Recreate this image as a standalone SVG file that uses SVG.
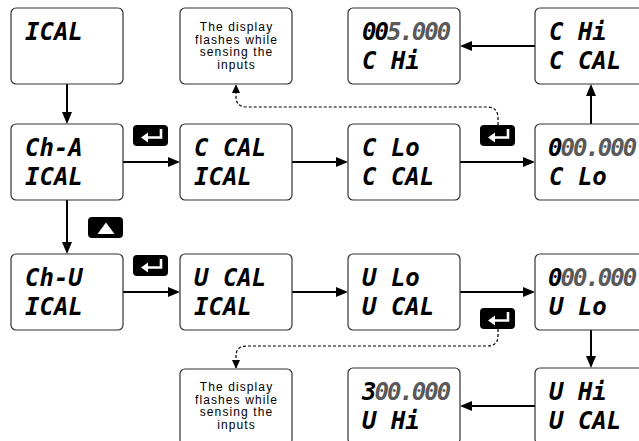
<svg xmlns="http://www.w3.org/2000/svg" width="639" height="441" viewBox="0 0 639 441">
<style>
.box{fill:#fff;stroke:#333;stroke-width:1.2}
.lcd{font-family:"DejaVu Sans Mono","Liberation Mono",monospace;font-weight:bold;font-style:italic;font-size:24px;fill:#000}
.num{letter-spacing:-2px}
.dim{fill:#595959}
.note{font-family:"Liberation Sans",Arial,sans-serif;font-size:12px;letter-spacing:1.1px;text-anchor:middle;fill:#000}
.conn{stroke:#000;stroke-width:2;fill:none}
.dash{stroke:#000;stroke-width:1.2;stroke-dasharray:3 2;fill:none}
.sym{stroke:#fff;stroke-width:2.6;fill:none}
</style>
<defs>
<marker id="ah" markerWidth="12" markerHeight="10" refX="10" refY="5" orient="auto" markerUnits="userSpaceOnUse"><path d="M0,0 L12,5 L0,10 z" fill="#000"/></marker>
<marker id="ahs" markerWidth="8" markerHeight="8" refX="8" refY="4" orient="auto" markerUnits="userSpaceOnUse"><path d="M0,0 L9,4 L0,8 z" fill="#000"/></marker>
<g id="enterBtn"><rect width="35" height="21" rx="4" fill="#000"/><path class="sym" d="M28,4 V12.5 H14"/><polygon points="8,12.5 15,7.5 15,17.5" fill="#fff"/></g>
</defs>

<g id="connectors">
<path class="conn" d="M67,84 V122" marker-end="url(#ah)"/>
<path class="conn" d="M67,200 V252" marker-end="url(#ah)"/>
<path class="conn" d="M123,162 H178" marker-end="url(#ah)"/>
<path class="conn" d="M292,162 H346" marker-end="url(#ah)"/>
<path class="conn" d="M460,162 H533" marker-end="url(#ah)"/>
<path class="conn" d="M591,124 V86" marker-end="url(#ah)"/>
<path class="conn" d="M535,46 H462" marker-end="url(#ah)"/>
<path class="conn" d="M123,292 H178" marker-end="url(#ah)"/>
<path class="conn" d="M292,292 H346" marker-end="url(#ah)"/>
<path class="conn" d="M460,292 H533" marker-end="url(#ah)"/>
<path class="conn" d="M591,330 V366" marker-end="url(#ah)"/>
<path class="conn" d="M535,406 H462" marker-end="url(#ah)"/>
<path class="dash" d="M498,125 V118 Q498,107 487,107 H247 Q236,107 236,97 V85" marker-end="url(#ahs)"/>
<path class="dash" d="M498,329 V336 Q498,346 487,346 H247 Q236,346 236,356 V368" marker-end="url(#ahs)"/>
</g>

<g id="buttons">
<use href="#enterBtn" x="133" y="125"/>
<use href="#enterBtn" x="133" y="255"/>
<use href="#enterBtn" x="480" y="125"/>
<use href="#enterBtn" x="480" y="308"/>
<g id="upBtn"><rect x="88" y="217" width="35" height="21" rx="4" fill="#000"/><polygon points="106,222.5 97.5,234 114.5,234" fill="#fff"/></g>
</g>

<g id="n-ical"><rect class="box" x="11" y="8" width="112" height="76" rx="5"/><text class="lcd" x="25" y="40">ICAL</text></g>
<g id="n-flash1"><rect class="box" x="180" y="8" width="112" height="76" rx="5"/>
<text class="note" x="236.5" y="31">The display</text><text class="note" x="236.5" y="43.5">flashes while</text><text class="note" x="236.5" y="56">sensing the</text><text class="note" x="236.5" y="68.5">inputs</text></g>
<g id="n-c005"><rect class="box" x="348" y="8" width="112" height="76" rx="5"/><text class="lcd num" x="362" y="40">00<tspan class="dim">5.000</tspan></text><text class="lcd" x="362" y="69">C Hi</text></g>
<g id="n-chi"><rect class="box" x="535" y="8" width="112" height="76" rx="5"/><text class="lcd" x="549" y="40">C Hi</text><text class="lcd" x="549" y="69">C CAL</text></g>

<g id="n-cha"><rect class="box" x="11" y="124" width="112" height="76" rx="5"/><text class="lcd" x="25" y="156">Ch-A</text><text class="lcd" x="25" y="185">ICAL</text></g>
<g id="n-ccal"><rect class="box" x="180" y="124" width="112" height="76" rx="5"/><text class="lcd" x="194" y="156">C CAL</text><text class="lcd" x="194" y="185">ICAL</text></g>
<g id="n-clo"><rect class="box" x="348" y="124" width="112" height="76" rx="5"/><text class="lcd" x="362" y="156">C Lo</text><text class="lcd" x="362" y="185">C CAL</text></g>
<g id="n-c000"><rect class="box" x="535" y="124" width="112" height="76" rx="5"/><text class="lcd num" x="548" y="156">0<tspan class="dim">00.000</tspan></text><text class="lcd" x="549" y="185">C Lo</text></g>

<g id="n-chu"><rect class="box" x="11" y="254" width="112" height="76" rx="5"/><text class="lcd" x="25" y="286">Ch-U</text><text class="lcd" x="25" y="315">ICAL</text></g>
<g id="n-ucal"><rect class="box" x="180" y="254" width="112" height="76" rx="5"/><text class="lcd" x="194" y="286">U CAL</text><text class="lcd" x="194" y="315">ICAL</text></g>
<g id="n-ulo"><rect class="box" x="348" y="254" width="112" height="76" rx="5"/><text class="lcd" x="362" y="286">U Lo</text><text class="lcd" x="362" y="315">U CAL</text></g>
<g id="n-u000"><rect class="box" x="535" y="254" width="112" height="76" rx="5"/><text class="lcd num" x="548" y="286">0<tspan class="dim">00.000</tspan></text><text class="lcd" x="549" y="315">U Lo</text></g>

<g id="n-flash2"><rect class="box" x="180" y="369" width="112" height="76" rx="5"/>
<text class="note" x="236.5" y="391">The display</text><text class="note" x="236.5" y="403.5">flashes while</text><text class="note" x="236.5" y="416">sensing the</text><text class="note" x="236.5" y="428.5">inputs</text></g>
<g id="n-u300"><rect class="box" x="348" y="368" width="112" height="76" rx="5"/><text class="lcd num" x="362" y="400">3<tspan class="dim">00.000</tspan></text><text class="lcd" x="362" y="429">U Hi</text></g>
<g id="n-uhi"><rect class="box" x="535" y="368" width="112" height="76" rx="5"/><text class="lcd" x="549" y="400">U Hi</text><text class="lcd" x="549" y="429">U CAL</text></g>
</svg>
